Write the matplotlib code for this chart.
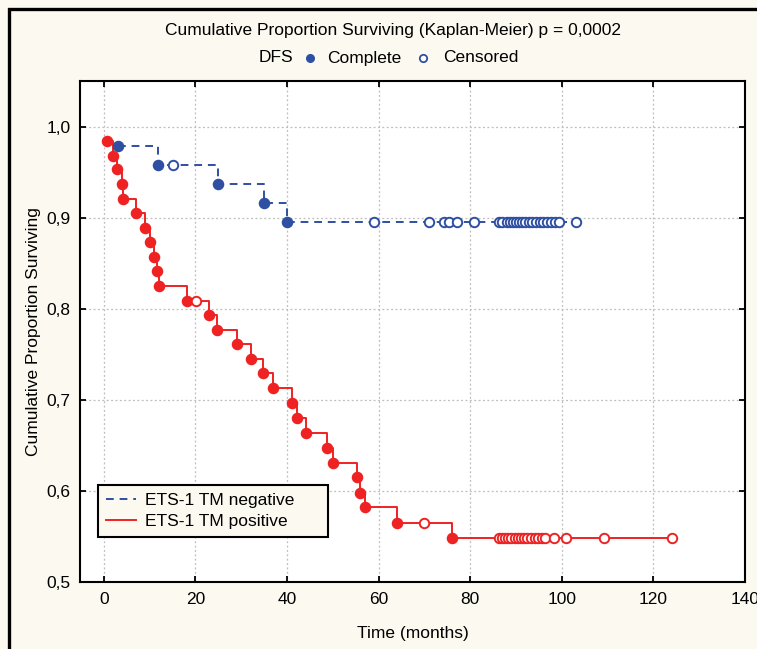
import numpy as np
import matplotlib
matplotlib.use("Agg")
import matplotlib.pyplot as plt
from matplotlib.lines import Line2D
from matplotlib.patches import Rectangle
from matplotlib.ticker import FuncFormatter

plt.rcParams['font.family'] = ['Liberation Sans', 'DejaVu Sans']

# ETS-1 TM negative: event times / survival, censored times
neg_event_t = [3.0, 11.8, 25.0, 35.0, 40.0]
neg_event_s = [0.979, 0.958, 0.937, 0.916, 0.895]
neg_cens_t = [15.1, 58.9, 70.9, 74.3, 75.3, 77.1, 80.9,
              86.2, 87.0, 88.0, 88.7, 89.3, 90.0, 90.6, 91.3, 92.0,
              92.8, 93.6, 94.4, 95.2, 96.0, 96.8, 97.6, 98.5, 99.3, 103.2]

# ETS-1 TM positive
pos_event_t = [0.8, 1.9, 2.9, 3.9, 4.1, 7.0, 9.1, 10.0, 11.0, 11.7, 12.0,
               18.1, 22.9, 24.8, 29.0, 32.1, 34.8, 36.9, 41.0, 42.1, 44.2,
               48.8, 50.0, 55.2, 56.0, 57.0, 64.1, 76.1]
pos_event_s = [0.984, 0.968, 0.953, 0.937, 0.921, 0.905, 0.889, 0.873, 0.857,
               0.841, 0.825, 0.809, 0.793, 0.777, 0.761, 0.745, 0.729, 0.713,
               0.696, 0.680, 0.664, 0.647, 0.631, 0.615, 0.598, 0.582, 0.565,
               0.548]
pos_cens_t = [20.1, 69.9, 86.2, 86.9, 87.6, 88.3, 89.0, 89.7, 90.4, 91.1,
              91.8, 92.5, 93.3, 94.1, 94.9, 95.7, 96.4, 98.2, 101.0, 109.3, 124.1]

blue = '#2f4fa3'
red = '#ee2222'
bg = '#fcf9f0'
fs = 12.5


def level_at(t_events, s_events, t):
    # survival level in effect at time t (step function lookup)
    i = np.searchsorted(t_events, t, side='right') - 1
    return np.array(s_events)[i]


fig = plt.figure(figsize=(7.57, 6.49), dpi=100, facecolor=bg)
ax = fig.add_axes([80 / 757, 1 - 582 / 649, 665 / 757, 501 / 649])
ax.set_facecolor('white')

for ev_t, ev_s, cens_t, col, ls in [
        (neg_event_t, neg_event_s, neg_cens_t, blue, (0, (4, 3))),
        (pos_event_t, pos_event_s, pos_cens_t, red, '-')]:
    t_end = max(max(cens_t), max(ev_t))
    ax.plot(list(ev_t) + [t_end], list(ev_s) + [ev_s[-1]], drawstyle='steps-post',
            color=col, lw=1.4, ls=ls, zorder=3)
    ax.plot(ev_t, ev_s, 'o', color=col, ms=7.3, zorder=4)
    cs = level_at(ev_t, ev_s, cens_t)
    ax.plot(cens_t, cs, 'o', mfc='white', mec=col, mew=1.4, ms=6.8, zorder=4)

ax.set_xlim(-5.2, 140)
ax.set_ylim(0.5, 1.05)
ax.set_xticks(np.arange(0, 141, 20))
ax.set_yticks([0.5, 0.6, 0.7, 0.8, 0.9, 1.0])
ax.yaxis.set_major_formatter(FuncFormatter(lambda v, p: f'{v:.1f}'.replace('.', ',')))
ax.grid(True, ls=(0, (1.5, 2)), color='#bdbdbd', lw=0.9)
ax.set_axisbelow(True)
ax.tick_params(direction='in', length=4, width=1.3, labelsize=fs,
               top=True, right=True, pad=7)
for sp in ax.spines.values():
    sp.set_linewidth(1.5)

ax.set_xlabel('Time (months)', fontsize=fs, labelpad=14)
ax.set_ylabel('Cumulative Proportion Surviving', fontsize=fs, labelpad=4)

handles = [Line2D([], [], color=blue, ls=(0, (4, 3)), lw=1.4),
           Line2D([], [], color=red, ls='-', lw=1.4)]
leg = ax.legend(handles, ['ETS-1 TM negative', 'ETS-1 TM positive'],
                loc='lower left', bbox_to_anchor=(0.027, 0.09, 0.346, 0.1),
                mode='expand', borderaxespad=0,
                fontsize=fs, fancybox=False, framealpha=1, facecolor=bg,
                edgecolor='black', handlelength=1.75, handletextpad=0.5,
                borderpad=0.45, labelspacing=0.35)
leg.get_frame().set_linewidth(1.5)

# header texts
fig.text(393 / 757, 1 - 31 / 649, 'Cumulative Proportion Surviving (Kaplan-Meier) p = 0,0002',
         ha='center', va='center', fontsize=fs)
fig.text(293 / 757, 1 - 58 / 649, 'DFS', ha='right', va='center', fontsize=fs)
fig.add_artist(Line2D([310 / 757], [1 - 58 / 649], marker='o', color=blue, ms=5.5))
fig.text(327 / 757, 1 - 58 / 649, 'Complete', ha='left', va='center', fontsize=fs)
fig.add_artist(Line2D([423 / 757], [1 - 58 / 649], marker='o', mfc='white', mec=blue,
                      mew=1.3, ms=5.3))
fig.text(443 / 757, 1 - 58 / 649, 'Censored', ha='left', va='center', fontsize=fs)

# outer frame (cut at right and bottom)
fig.patches.append(Rectangle((8.5 / 757, -0.2), 1.2, 1.2 - 8.5 / 649,
                             transform=fig.transFigure, fill=False, lw=2.4,
                             edgecolor='black', clip_on=False))

fig.savefig('out.png', dpi=100, facecolor=bg)
